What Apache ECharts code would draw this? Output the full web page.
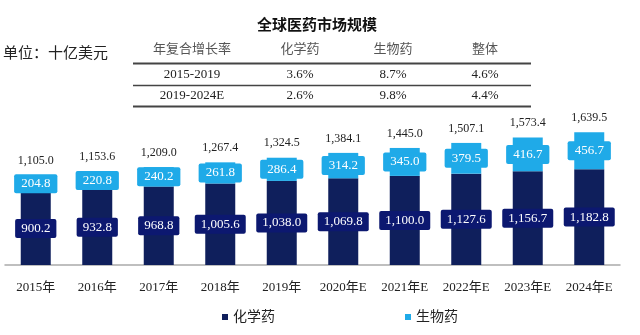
<!DOCTYPE html>
<html>
<head>
<meta charset="utf-8">
<script src="https://cdn.jsdelivr.net/npm/echarts@6/dist/echarts.min.js"></script>
<style>
  html, body { margin: 0; padding: 0; background: #fff; }
  #chart { width: 640px; height: 335px; }
</style>
</head>
<body>
<div id="chart"></div>
<script>
// Global pharmaceutical market size, billions of USD
const categories = ['2015年', '2016年', '2017年', '2018年', '2019年', '2020年E', '2021年E', '2022年E', '2023年E', '2024年E'];
const chemical = [900.2, 932.8, 968.8, 1005.6, 1038.0, 1069.8, 1100.0, 1127.6, 1156.7, 1182.8];
const biologic = [204.8, 220.8, 240.2, 261.8, 286.4, 314.2, 345.0, 379.5, 416.7, 456.7];
const totals = [1105.0, 1153.6, 1209.0, 1267.4, 1324.5, 1384.1, 1445.0, 1507.1, 1573.4, 1639.5];

// CAGR table above the chart
const tableHeader = ['年复合增长率', '化学药', '生物药', '整体'];
const tableRows = [
  ['2015-2019', '3.6%', '8.7%', '4.6%'],
  ['2019-2024E', '2.6%', '9.8%', '4.4%']
];

const SERIF = '"Liberation Serif", "Times New Roman", "Noto Sans CJK SC", serif';
const NAVY = '#0f1f5c';
const NAVY_LABEL = '#0c1870';
const SKY = '#1faae8';

const fmt = v => v.toLocaleString('en-US', { minimumFractionDigits: 1, maximumFractionDigits: 1 });

// table graphics
const colX = [192, 300, 393, 485];
const rowY = [50, 75, 96];
const lineY = [63.5, 85.5, 106.5];
const tableGraphics = [];
tableHeader.forEach((t, i) => {
  tableGraphics.push({
    type: 'text', x: colX[i], y: rowY[0],
    style: { text: t, font: '13px ' + SERIF, fill: '#555', align: 'center', verticalAlign: 'middle' }
  });
});
tableRows.forEach((row, r) => {
  row.forEach((t, i) => {
    tableGraphics.push({
      type: 'text', x: colX[i], y: rowY[r + 1],
      style: { text: t, font: '13px ' + SERIF, fill: '#222', align: 'center', verticalAlign: 'middle' }
    });
  });
});
lineY.forEach((y, i) => {
  tableGraphics.push({
    type: 'line',
    shape: { x1: 133, y1: y, x2: 531, y2: y },
    style: { stroke: '#444', lineWidth: i === 1 ? 1.5 : 2 }
  });
});

const chart = echarts.init(document.getElementById('chart'), null, { renderer: 'canvas' });
chart.setOption({
  animation: false,
  backgroundColor: '#fff',
  title: {
    text: '全球医药市场规模',
    left: 252, top: 12,
    textStyle: { fontSize: 15, fontWeight: 'bold', color: '#111', fontFamily: '"Noto Sans CJK SC", sans-serif' }
  },
  graphic: [
    {
      type: 'text', x: 3, y: 54,
      style: { text: '单位：十亿美元', font: '15px ' + SERIF, fill: '#222', verticalAlign: 'middle' }
    },
    ...tableGraphics
  ],
  legend: {
    data: ['化学药', '生物药'],
    bottom: 6,
    left: 217,
    itemGap: 130,
    itemWidth: 6,
    itemHeight: 6,
    icon: 'rect',
    textStyle: { fontSize: 14, color: '#222', fontFamily: SERIF }
  },
  grid: { left: 5, right: 20, top: 103, bottom: 70 },
  xAxis: {
    type: 'category',
    data: categories,
    axisLine: { lineStyle: { color: '#aaa', width: 1.5 } },
    axisTick: { show: false },
    axisLabel: { fontSize: 13, color: '#222', fontFamily: SERIF, margin: 16, interval: 0 }
  },
  yAxis: {
    type: 'value',
    min: 0, max: 2000,
    show: false,
    splitLine: { show: false }
  },
  series: [
    {
      name: '化学药',
      type: 'bar',
      stack: 'total',
      data: chemical,
      barWidth: 30,
      itemStyle: { color: NAVY },
      label: {
        show: true,
        position: 'inside',
        formatter: p => fmt(p.value),
        color: '#fff',
        fontSize: 13,
        fontFamily: SERIF,
        backgroundColor: NAVY_LABEL,
        borderRadius: 2,
        padding: [3, 6],
        lineHeight: 13
      }
    },
    {
      name: '生物药',
      type: 'bar',
      stack: 'total',
      data: biologic,
      barWidth: 30,
      itemStyle: { color: SKY },
      label: {
        show: true,
        position: 'inside',
        formatter: p => fmt(p.value),
        color: '#fff',
        fontSize: 13,
        fontFamily: SERIF,
        backgroundColor: SKY,
        borderRadius: 2,
        padding: [3, 7],
        lineHeight: 13
      }
    },
    {
      name: '合计',
      type: 'line',
      data: totals,
      symbol: 'circle',
      symbolSize: 1,
      itemStyle: { color: 'rgba(0,0,0,0)' },
      lineStyle: { opacity: 0 },
      label: {
        show: true,
        position: 'top',
        distance: 8,
        formatter: p => fmt(p.value),
        color: '#222',
        fontSize: 12,
        fontFamily: SERIF
      },
      z: 5
    }
  ]
});
</script>
</body>
</html>
